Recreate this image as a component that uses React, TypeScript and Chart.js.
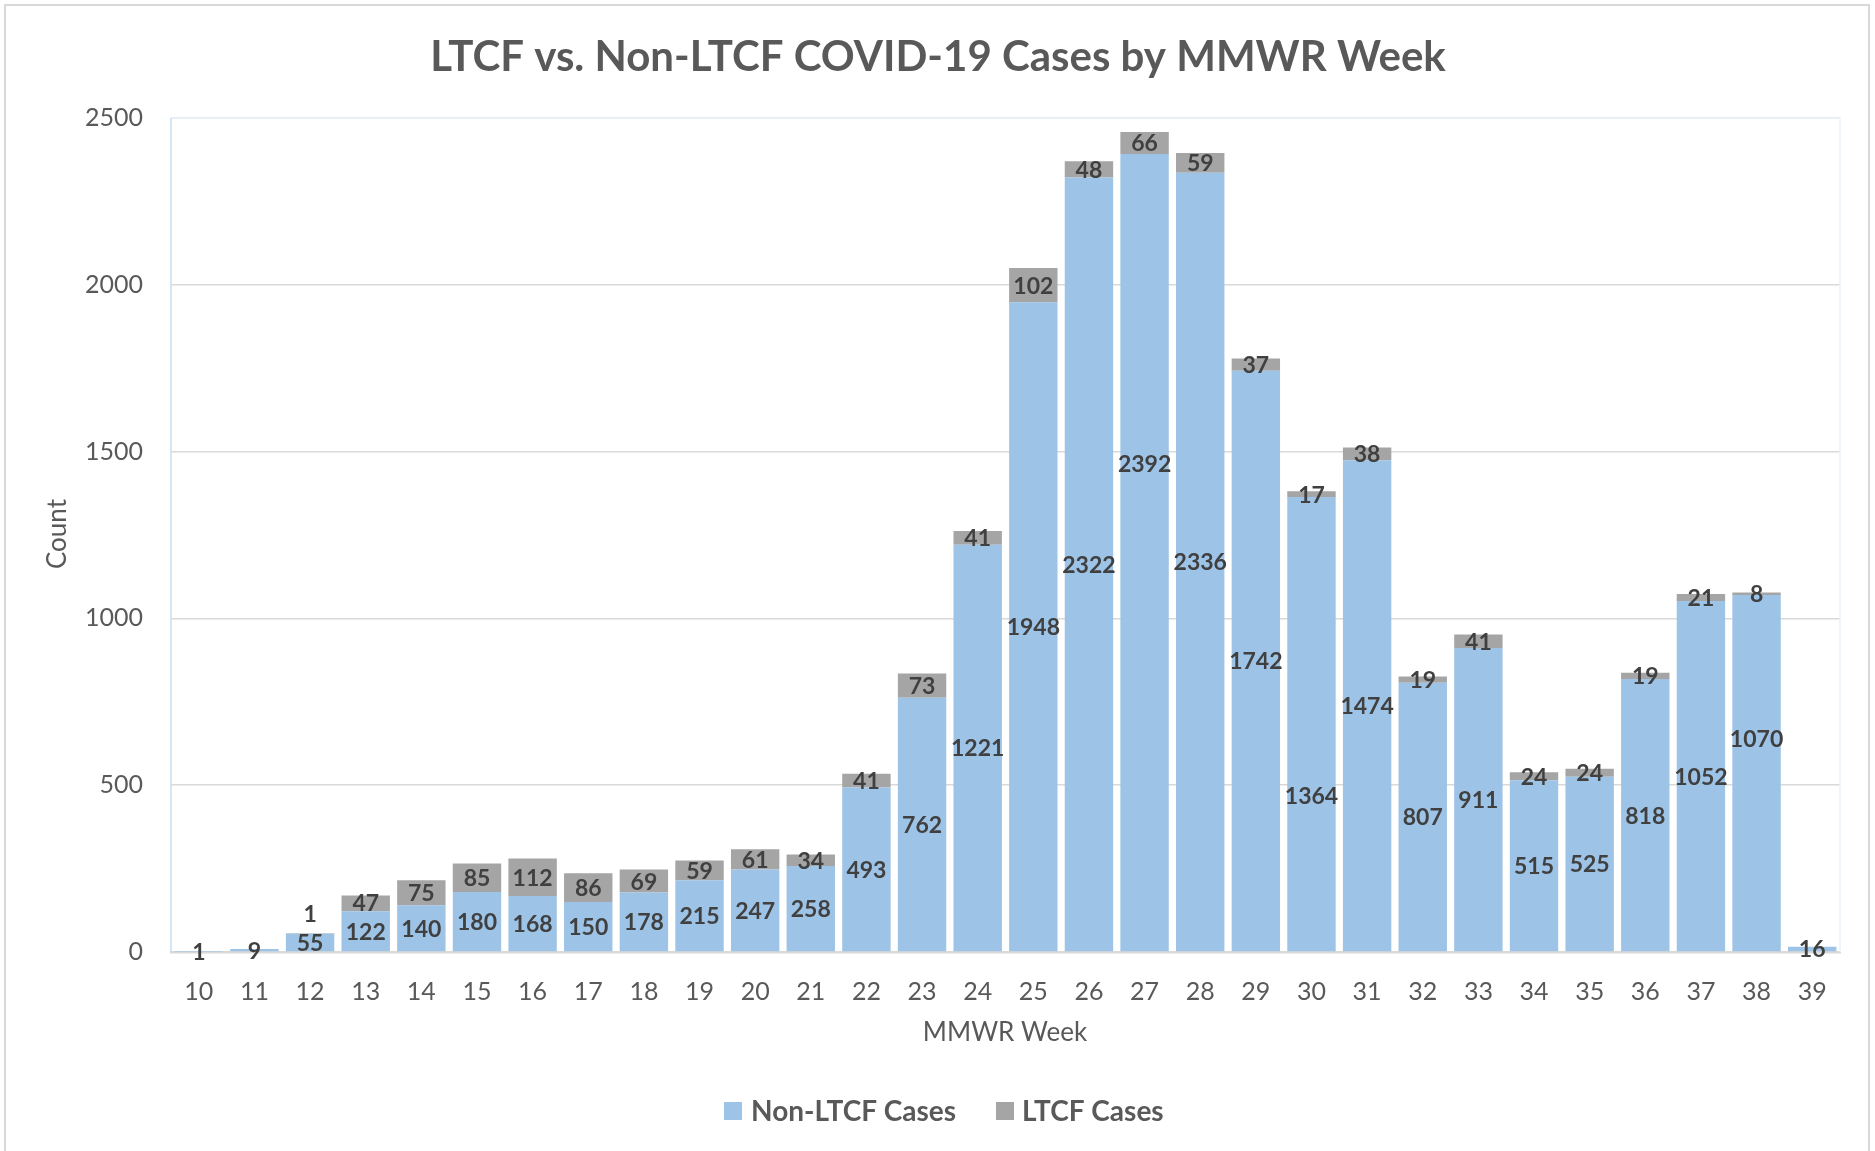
import React, { useEffect, useRef } from "react";
import { Chart, registerables } from "chart.js";

Chart.register(...registerables);

const chartTitle = "LTCF vs. Non-LTCF COVID-19 Cases by MMWR Week";
const xAxisTitle = "MMWR Week";
const yAxisTitle = "Count";
const weeks = ["10", "11", "12", "13", "14", "15", "16", "17", "18", "19", "20", "21", "22", "23", "24", "25", "26", "27", "28", "29", "30", "31", "32", "33", "34", "35", "36", "37", "38", "39"];
const nonLtcfCases = [1, 9, 55, 122, 140, 180, 168, 150, 178, 215, 247, 258, 493, 762, 1221, 1948, 2322, 2392, 2336, 1742, 1364, 1474, 807, 911, 515, 525, 818, 1052, 1070, 16];
const ltcfCases = [null, null, 1, 47, 75, 85, 112, 86, 69, 59, 61, 34, 41, 73, 41, 102, 48, 66, 59, 37, 17, 38, 19, 41, 24, 24, 19, 21, 8, null];
const seriesNames = ["Non-LTCF Cases", "LTCF Cases"];
const seriesColors = ["#9dc3e6", "#a5a5a5"];
const yMax = 2500;
const yStep = 500;

// manual label nudges (pixels) for Non-LTCF labels that were moved in the original
const nonLtcfLabelNudge: Record<string, number> = { "27": -89, "30": 71, "38": -35 };

const FONT = "Lato";
const W = 1875;
const H = 1151;

const decorPlugin = {
  id: "decor",
  beforeDraw(chart: any) {
    const ctx = chart.ctx;
    ctx.save();
    ctx.fillStyle = "#ffffff";
    ctx.fillRect(0, 0, W, H);
    ctx.strokeStyle = "#d9d9d9";
    ctx.lineWidth = 2;
    ctx.strokeRect(5, 5, 1864, 1200);
    ctx.restore();
  },
  afterDraw(chart: any) {
    const ctx = chart.ctx;
    const ca = chart.chartArea;
    ctx.save();
    // plot area border
    ctx.lineWidth = 1.5;
    ctx.strokeStyle = "#eaf2fa";
    ctx.beginPath();
    ctx.moveTo(ca.left, ca.top);
    ctx.lineTo(ca.right, ca.top);
    ctx.lineTo(ca.right, ca.bottom);
    ctx.stroke();
    ctx.strokeStyle = "#c6dcf1";
    ctx.beginPath();
    ctx.moveTo(ca.left, ca.top);
    ctx.lineTo(ca.left, ca.bottom);
    ctx.stroke();

    // title
    ctx.fillStyle = "#595959";
    ctx.textAlign = "center";
    ctx.textBaseline = "alphabetic";
    ctx.font = `bold 42px ${FONT}`;
    ctx.fillText(chartTitle, 938, 71);

    // x axis title
    ctx.font = `26px ${FONT}`;
    ctx.textBaseline = "middle";
    ctx.fillText(xAxisTitle, 1005, 1033);

    // y axis title
    ctx.save();
    ctx.translate(58, 534);
    ctx.rotate(-Math.PI / 2);
    ctx.fillText(yAxisTitle, 0, 0);
    ctx.restore();

    // legend
    ctx.font = `bold 28px ${FONT}`;
    ctx.textAlign = "left";
    ctx.textBaseline = "middle";
    const legendItems = [
      { sq: 724, tx: 751 },
      { sq: 996, tx: 1022 },
    ];
    legendItems.forEach((it, i) => {
      ctx.fillStyle = seriesColors[i];
      ctx.fillRect(it.sq, 1102, 18, 18);
      ctx.fillStyle = "#595959";
      ctx.fillText(seriesNames[i], it.tx, 1112);
    });

    // data labels
    const m0 = chart.getDatasetMeta(0);
    const m1 = chart.getDatasetMeta(1);
    ctx.font = `bold 23px ${FONT}`;
    ctx.fillStyle = "#404040";
    ctx.textAlign = "center";
    ctx.textBaseline = "middle";
    weeks.forEach((wk, i) => {
      const e0 = m0.data[i];
      let blueY = Infinity;
      if (nonLtcfCases[i] != null && e0) {
        blueY = (e0.y + e0.base) / 2;
        const nudge = nonLtcfLabelNudge[wk] || 0;
        ctx.fillText(String(nonLtcfCases[i]), e0.x, blueY + 1 + nudge);
      }
      const e1 = m1.data[i];
      if (ltcfCases[i] != null && e1) {
        let y = (e1.y + e1.base) / 2;
        y = Math.min(y, blueY - 29);
        ctx.fillText(String(ltcfCases[i]), e1.x, y + 1);
      }
    });
    ctx.restore();
  },
};

export default function App() {
  const ref = useRef<HTMLCanvasElement | null>(null);
  useEffect(() => {
    document.body.style.margin = "0";
    const canvas = ref.current;
    if (!canvas) return;
    const chart = new Chart(canvas, {
      type: "bar",
      data: {
        labels: weeks,
        datasets: [
          {
            label: seriesNames[0],
            data: nonLtcfCases,
            backgroundColor: seriesColors[0],
            barPercentage: 0.87,
            categoryPercentage: 1,
          },
          {
            label: seriesNames[1],
            data: ltcfCases,
            backgroundColor: seriesColors[1],
            barPercentage: 0.87,
            categoryPercentage: 1,
          },
        ],
      },
      options: {
        responsive: false,
        animation: false,
        devicePixelRatio: 1,
        layout: { padding: { left: 0, top: 118, right: 35, bottom: 0 } },
        plugins: {
          legend: { display: false },
          title: { display: false },
          tooltip: { enabled: false },
        },
        scales: {
          x: {
            stacked: true,
            grid: { display: false, drawTicks: false },
            border: { display: true, color: "#d9d9d9", width: 2.5 },
            ticks: {
              autoSkip: false,
              maxRotation: 0,
              padding: 25,
              color: "#595959",
              font: { family: FONT, size: 25 },
            },
            afterFit: (s: any) => {
              s.height = 199;
            },
          },
          y: {
            stacked: true,
            min: 0,
            max: yMax,
            grid: { color: "#d9d9d9", lineWidth: 1.5, drawTicks: false },
            border: { display: false },
            ticks: {
              stepSize: yStep,
              padding: 28,
              color: "#595959",
              font: { family: FONT, size: 25 },
              callback: (v: any) => String(v),
            },
            afterFit: (s: any) => {
              s.width = 171;
            },
          },
        },
      },
      plugins: [decorPlugin],
    } as any);
    return () => chart.destroy();
  }, []);
  return (
    <div style={{ position: "relative", width: W, height: H, overflow: "hidden" }}>
      <canvas ref={ref} width={W} height={H} style={{ display: "block", width: W, height: H }} />
    </div>
  );
}
